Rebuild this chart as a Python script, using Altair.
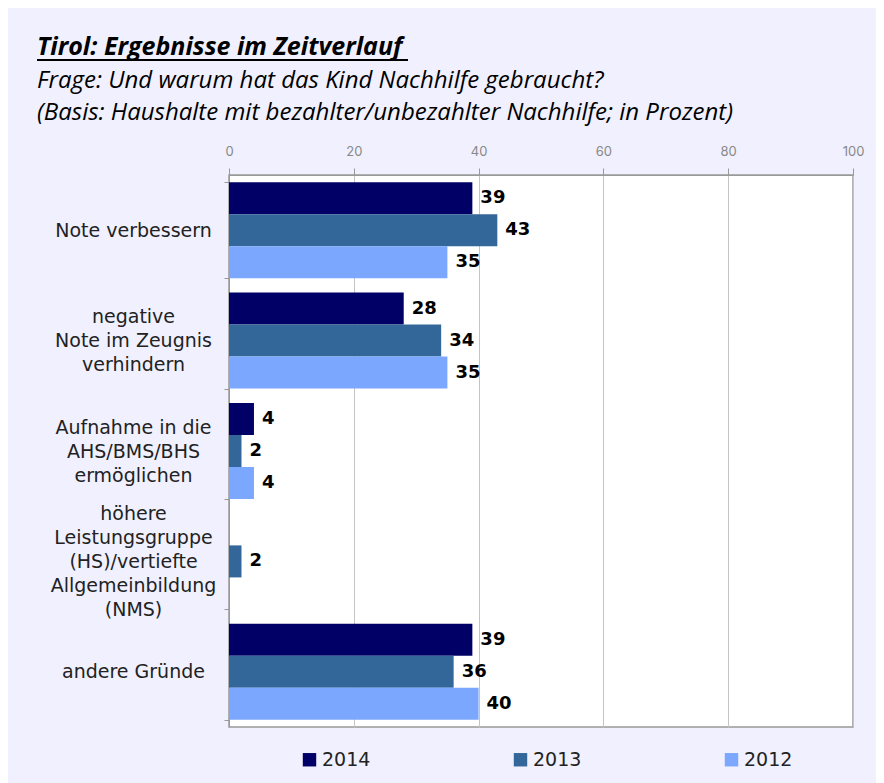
import altair as alt
import pandas as pd

categories = [
    "Note verbessern",
    "negative|Note im Zeugnis|verhindern",
    "Aufnahme in die|AHS/BMS/BHS|ermöglichen",
    "höhere|Leistungsgruppe|(HS)/vertiefte|Allgemeinbildung|(NMS)",
    "andere Gründe",
]
years = ["2014", "2013", "2012"]
v2014 = [39, 28, 4, None, 39]
v2013 = [43, 34, 2, 2, 36]
v2012 = [35, 35, 4, None, 40]
colors = ["#000066", "#336699", "#7BA7FF"]
x_ticks = [0, 20, 40, 60, 80, 100]

title = "Tirol: Ergebnisse im Zeitverlauf"
sub1 = "Frage: Und warum hat das Kind Nachhilfe gebraucht?"
sub2 = "(Basis: Haushalte mit bezahlter/unbezahlter Nachhilfe; in Prozent)"

rows = []
for i, c in enumerate(categories):
    for y, vals in zip(years, [v2014, v2013, v2012]):
        rows.append({"cat": c, "year": y, "value": vals[i]})
df = pd.DataFrame(rows)

W, H = 624, 552

y_enc = alt.Y(
    "cat:N",
    sort=categories,
    scale=alt.Scale(paddingInner=0.13, paddingOuter=0.065),
    axis=alt.Axis(
        title=None,
        orient="left",
        labelExpr="split(datum.label, '|')",
        labelAlign="center",
        labelBaseline="middle",
        labelOffset=alt.ExprRef(expr="-(length(split(datum.value, '|')) - 1) * 12"),
        labelPadding=91,
        labelFont="DejaVu Sans",
        labelFontSize=19,
        labelColor="#222222",
        labelLineHeight=24,
        labelLimit=400,
        tickBand="extent",
        tickSize=5,
        tickColor="#999999",
        domainColor="#999999",
        grid=False,
    ),
)
x_enc = alt.X(
    "value:Q",
    scale=alt.Scale(domain=[0, 100], nice=False),
    axis=alt.Axis(
        title=None,
        orient="top",
        values=x_ticks,
        grid=True,
        gridColor="#c4c4c4",
        domainColor="#999999",
        tickColor="#999999",
        tickSize=7,
        labelPadding=10,
        labelFlush=False,
        labelColor="#888888",
        labelFont="Inter",
        labelFontSize=13,
    ),
)
yoff = alt.YOffset("year:N", sort=years, scale=alt.Scale(domain=years, paddingInner=0, paddingOuter=0))
color = alt.Color(
    "year:N",
    sort=years,
    scale=alt.Scale(domain=years, range=colors),
    legend=alt.Legend(
        title=None,
        orient="none",
        legendX=71,
        legendY=575,
        direction="horizontal",
        columns=3,
        columnPadding=140,
        symbolType="square",
        symbolSize=180,
        symbolStrokeWidth=0,
        labelFont="DejaVu Sans",
        labelFontSize=19,
        labelColor="#222222",
        labelOffset=3,
        padding=0,
    ),
)

base = alt.Chart(df).transform_filter("isValid(datum.value)")
bars = base.mark_bar().encode(y=y_enc, x=x_enc, yOffset=yoff, color=color)
labels = base.mark_text(
    align="left", baseline="middle", dx=8, fontWeight="bold",
    font="DejaVu Sans", fontSize=18, color="#000000"
).encode(y=y_enc, x=x_enc, yOffset=yoff, text=alt.Text("value:Q", format="d"))

one = alt.Data(values=[{"a": 1}])
t_title = alt.Chart(one).mark_text(
    align="left", baseline="alphabetic", font="Open Sans", fontSize=25,
    fontStyle="italic", fontWeight="bold", color="#000000"
).encode(x=alt.value(-192), y=alt.value(-120), text=alt.value(title))
t_sub1 = alt.Chart(one).mark_text(
    align="left", baseline="alphabetic", font="Open Sans", fontSize=24,
    fontStyle="italic", color="#000000"
).encode(x=alt.value(-192), y=alt.value(-87), text=alt.value(sub1))
t_sub2 = alt.Chart(one).mark_text(
    align="left", baseline="alphabetic", font="Open Sans", fontSize=24,
    fontStyle="italic", color="#000000"
).encode(x=alt.value(-192), y=alt.value(-55), text=alt.value(sub2))
underline = alt.Chart(one).mark_rule(color="#000000", strokeWidth=2).encode(
    x=alt.value(-192), x2=alt.value(179), y=alt.value(-115)
)

chart = alt.layer(bars, labels, t_title, t_sub1, t_sub2, underline).properties(
    width=W,
    height=H,
    background="#F0F0FF",
    padding={"left": 221, "top": 167, "right": 23, "bottom": 56},
    autosize=alt.AutoSizeParams(type="none"),
).configure_view(
    fill="#FFFFFF", stroke="#999999", strokeWidth=1.5
)

chart.save("out.html", embed_options={"renderer": "svg", "actions": False})
